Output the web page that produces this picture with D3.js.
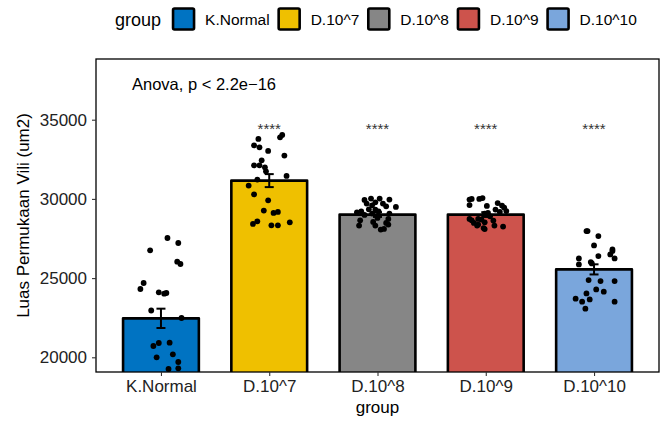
<!DOCTYPE html>
<html><head><meta charset="utf-8">
<script src="https://cdn.jsdelivr.net/npm/d3@7/dist/d3.min.js"></script>
<style>
body{margin:0;background:#fff;}
text{font-family:"Liberation Sans", Arial, Helvetica, sans-serif;}
</style></head>
<body><svg id="chart" width="665" height="421"></svg>
<script>
const groups = ["K.Normal", "D.10^7", "D.10^8", "D.10^9", "D.10^10"];
const colors = ["#0073C2", "#EFC000", "#868686", "#CD534C", "#7AA6DC"];
const means = [22460, 31155, 29010, 29010, 25550];
const ses = [610, 410, 150, 150, 320];
const sigLabels = ["", "****", "****", "****", "****"];
const yTicks = [20000, 25000, 30000, 35000];
const anovaLabel = "Anova, p < 2.2e\u221216";

const ptsKNormal = [27532, 27216, 26755, 26035, 25890, 24690, 24312, 24103, 24015, 24059, 22954, 22481, 20713, 20902, 20922, 20000, 20189, 19703, 19261, 19306];
const jitKNormal = [0.06, 0.16, -0.10, 0.15, 0.18, -0.16, -0.19, -0.02, 0.03, 0.05, -0.09, 0.19, -0.07, -0.02, 0.08, -0.04, 0.11, 0.16, 0.07, 0.16];
const ptsD7 = [33788, 33889, 34040, 33384, 33257, 33030, 32733, 32437, 32121, 32121, 31995, 31742, 31218, 31452, 30840, 30290, 29912, 29261, 29116, 29179, 28422, 28586, 28333, 28333, 28523];
const jitD7 = [-0.10, 0.10, 0.12, -0.14, -0.09, -0.01, 0.14, -0.07, -0.14, -0.09, -0.04, -0.03, -0.11, 0.16, -0.19, -0.14, -0.01, -0.05, 0.04, 0.08, -0.15, -0.11, 0.02, 0.08, 0.19];
const ptsD8 = [29937, 30019, 30019, 29956, 29785, 29703, 29703, 29596, 29533, 29495, 29343, 29217, 29154, 29325, 29217, 28990, 29072, 29072, 28801, 28649, 28737, 28548, 28314, 28485, 28378, 28314, 28062, 28106];
const jitD8 = [-0.12, -0.06, 0.02, 0.11, -0.02, 0.05, -0.10, -0.05, 0.08, 0.17, -0.08, -0.15, -0.19, -0.02, 0.01, -0.12, -0.05, 0.11, 0.00, -0.16, 0.10, -0.04, -0.17, 0.08, 0.10, -0.02, 0.03, 0.06];
const ptsD9 = [29956, 30000, 30000, 30050, 29735, 29609, 29558, 29577, 29451, 29230, 29325, 29179, 29072, 29116, 28902, 28737, 28649, 28737, 28693, 28630, 28485, 28523, 28314, 28378, 28314, 28157, 28251, 28094];
const jitD9 = [-0.15, -0.13, -0.06, -0.03, 0.11, -0.15, 0.01, 0.15, 0.17, 0.19, 0.09, 0.13, -0.01, 0.02, 0.04, -0.15, -0.13, -0.07, -0.04, 0.07, -0.11, -0.01, -0.08, -0.07, 0.08, -0.02, 0.16, -0.01];
const ptsD10 = [27967, 27967, 27651, 27064, 26812, 26705, 26389, 26496, 26244, 26244, 25865, 26010, 25928, 24874, 24811, 24811, 24287, 24035, 24141, 23700, 23510, 23655, 23510, 23068];
const jitD10 = [-0.07, -0.06, 0.04, 0.00, 0.17, 0.17, 0.04, 0.15, 0.19, -0.14, -0.14, -0.03, -0.02, -0.05, 0.06, 0.19, 0.02, -0.07, 0.09, -0.17, -0.11, -0.04, 0.19, -0.08];

const pointSets = [[ptsKNormal, jitKNormal], [ptsD7, jitD7], [ptsD8, jitD8], [ptsD9, jitD9], [ptsD10, jitD10]];

const svg = d3.select("#chart");
const P = {left: 96, right: 659, top: 59, bottom: 372};

const x = d3.scalePoint().domain(groups).range([P.left, P.right]).padding(0.6);
const step = x.step();
const y = d3.scaleLinear().domain([19072, 38832]).range([P.bottom, P.top]);
const color = d3.scaleOrdinal().domain(groups).range(colors);

svg.append("defs").append("clipPath").attr("id", "clip")
  .append("rect").attr("x", P.left).attr("y", P.top)
  .attr("width", P.right - P.left).attr("height", P.bottom - P.top);

const plot = svg.append("g").attr("clip-path", "url(#clip)");
const barW = step * 0.7;

const barData = groups.map((g, i) => ({g, mean: means[i], se: ses[i]}));

plot.selectAll("rect.bar").data(barData).join("rect")
  .attr("class", "bar")
  .attr("x", d => x(d.g) - barW / 2)
  .attr("y", d => y(d.mean))
  .attr("width", barW)
  .attr("height", d => y.range()[0] + 10 - y(d.mean))
  .attr("fill", d => color(d.g))
  .attr("stroke", "#000").attr("stroke-width", 2.6)
  .attr("stroke-linejoin", "round");

// points
pointSets.forEach(([vals, jit], i) => {
  const g = groups[i];
  plot.selectAll(null).data(vals.map((v, k) => ({v, j: jit[k]}))).join("circle")
    .attr("cx", d => x(g) + d.j * step)
    .attr("cy", d => y(d.v))
    .attr("r", 2.9)
    .attr("fill", "#000");
});

// error bars
const capW = 9;
const eb = plot.selectAll("g.eb").data(barData).join("g").attr("class", "eb")
  .attr("stroke", "#000").attr("stroke-width", 2);
eb.append("line").attr("x1", d => x(d.g)).attr("x2", d => x(d.g))
  .attr("y1", d => y(d.mean + d.se)).attr("y2", d => y(d.mean - d.se));
eb.append("line").attr("x1", d => x(d.g) - capW / 2).attr("x2", d => x(d.g) + capW / 2)
  .attr("y1", d => y(d.mean + d.se)).attr("y2", d => y(d.mean + d.se));
eb.append("line").attr("x1", d => x(d.g) - capW / 2).attr("x2", d => x(d.g) + capW / 2)
  .attr("y1", d => y(d.mean - d.se)).attr("y2", d => y(d.mean - d.se));

// significance labels
svg.selectAll("text.sig").data(groups).join("text")
  .attr("class", "sig")
  .attr("x", d => x(d)).attr("y", 134)
  .attr("text-anchor", "middle")
  .attr("font-size", 15).attr("fill", "#333")
  .text((d, i) => sigLabels[i]);

// anova label
svg.append("text").attr("x", 132).attr("y", 89.5)
  .attr("font-size", 16.5).attr("fill", "#000").text(anovaLabel);

// panel border
svg.append("rect").attr("x", P.left).attr("y", P.top)
  .attr("width", P.right - P.left).attr("height", P.bottom - P.top)
  .attr("fill", "none").attr("stroke", "#000").attr("stroke-width", 1.3);

// axes
const yAxis = svg.append("g").attr("transform", `translate(${P.left},0)`)
  .call(d3.axisLeft(y).tickValues(yTicks).tickSize(4).tickPadding(5).tickFormat(d3.format("d")));
yAxis.select(".domain").remove();
yAxis.selectAll("line").attr("stroke", "#333").attr("stroke-width", 1.1);
yAxis.selectAll("text").attr("font-size", 17).attr("fill", "#222")
  .attr("font-family", '"Liberation Sans", Arial, sans-serif');

const xAxis = svg.append("g").attr("transform", `translate(0,${P.bottom})`)
  .call(d3.axisBottom(x).tickSize(4).tickPadding(4));
xAxis.select(".domain").remove();
xAxis.selectAll("line").attr("stroke", "#333").attr("stroke-width", 1.1);
xAxis.selectAll("text").attr("font-size", 17).attr("fill", "#222")
  .attr("font-family", '"Liberation Sans", Arial, sans-serif');

// axis titles
svg.append("text").attr("x", (P.left + P.right) / 2).attr("y", 413)
  .attr("text-anchor", "middle").attr("font-size", 17).attr("fill", "#000").text("group");
svg.append("text").attr("transform", `translate(29,${(P.top + P.bottom) / 2}) rotate(-90)`)
  .attr("text-anchor", "middle").attr("font-size", 17).attr("fill", "#000")
  .text("Luas Permukaan Vili (um2)");

// legend
const leg = svg.append("g");
const lt = leg.append("text").attr("x", 115).attr("y", 26).attr("font-size", 18).text("group");
let lx = 115 + lt.node().getComputedTextLength() + 12;
groups.forEach((g, i) => {
  leg.append("rect").attr("x", lx).attr("y", 8.5).attr("width", 21).attr("height", 21)
    .attr("fill", colors[i]).attr("stroke", "#000").attr("stroke-width", 2.6)
    .attr("rx", 1.5);
  const t = leg.append("text").attr("x", lx + 32).attr("y", 24.5).attr("font-size", 15.5).text(g);
  lx += 32 + t.node().getComputedTextLength() + 9;
});
</script>
</body></html>
